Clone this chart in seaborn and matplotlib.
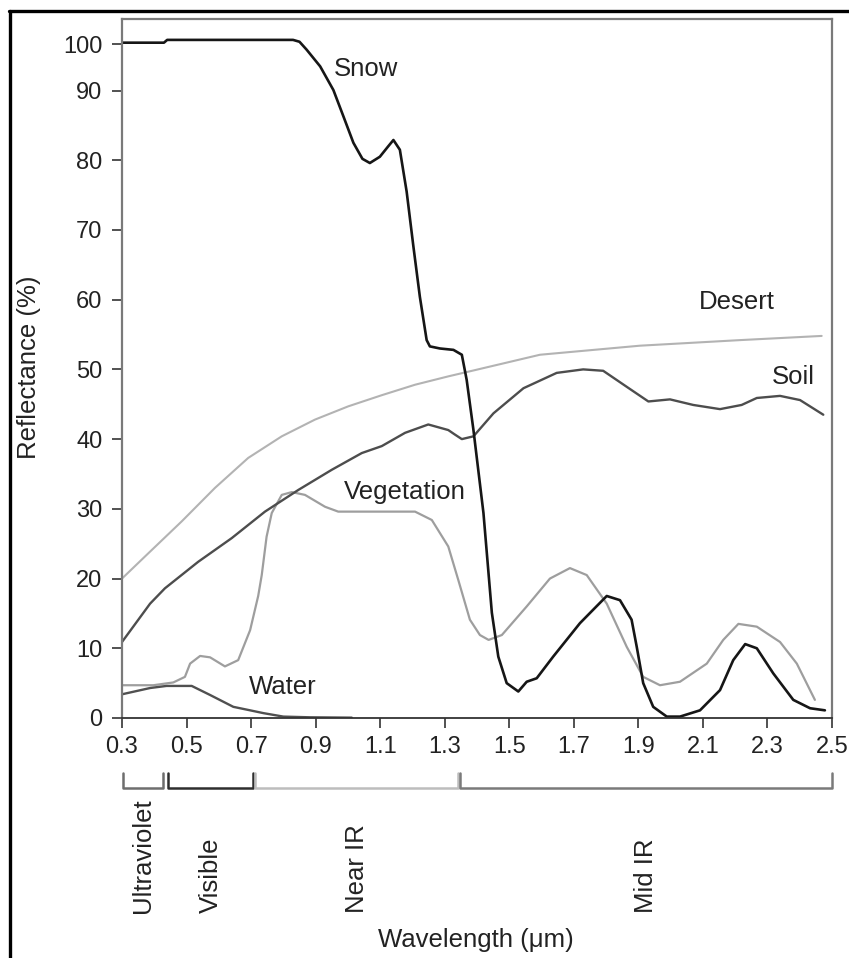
import numpy as np
import matplotlib
matplotlib.use("Agg")
import matplotlib.pyplot as plt
from matplotlib.lines import Line2D
import seaborn as sns

# spectral reflectance curves (wavelength in um, reflectance in %)
snow_x = [0.30, 0.43, 0.44, 0.83, 0.85, 0.872, 0.914, 0.955, 0.986, 1.017, 1.045, 1.068, 1.099,
          1.125, 1.141, 1.161, 1.182, 1.203, 1.223, 1.244, 1.254, 1.285, 1.327, 1.353, 1.368,
          1.389, 1.42, 1.446, 1.466, 1.492, 1.528, 1.554, 1.585, 1.636, 1.719, 1.77, 1.802,
          1.843, 1.879, 1.895, 1.915, 1.946, 1.988, 2.029, 2.091, 2.153, 2.194, 2.231, 2.267,
          2.318, 2.380, 2.432, 2.478]
snow_y = [100.3, 100.3, 100.9, 100.9, 100.5, 98.8, 95.2, 90.1, 86.3, 82.5, 80.2, 79.6, 80.5,
          82.0, 82.9, 81.5, 75.5, 67.6, 60.4, 54.2, 53.3, 53.0, 52.8, 52.1, 48.5,
          41.3, 29.4, 15.1, 8.8, 5.0, 3.8, 5.2, 5.7, 8.8, 13.6, 16.0, 17.5,
          16.9, 14.1, 10.2, 5.0, 1.6, 0.2, 0.2, 1.1, 4.0, 8.3, 10.6, 10.0,
          6.4, 2.6, 1.4, 1.1]

veg_x = [0.30, 0.397, 0.459, 0.495, 0.511, 0.542, 0.573, 0.619, 0.660, 0.697, 0.722, 0.733,
         0.748, 0.764, 0.795, 0.826, 0.867, 0.929, 0.970, 1.089, 1.208, 1.26, 1.311, 1.342,
         1.378, 1.409, 1.436, 1.477, 1.554, 1.626, 1.688, 1.740, 1.802, 1.864, 1.915, 1.967,
         2.029, 2.112, 2.163, 2.210, 2.267, 2.339, 2.391, 2.447]
veg_y = [4.7, 4.7, 5.1, 5.9, 7.8, 8.9, 8.7, 7.4, 8.3, 12.6, 17.5, 20.5,
         26.0, 29.4, 32.0, 32.4, 32.0, 30.3, 29.6, 29.6, 29.6, 28.4, 24.6, 19.8,
         14.1, 11.9, 11.2, 11.9, 16.0, 20.0, 21.5, 20.5, 16.4, 10.2, 5.9, 4.7,
         5.2, 7.8, 11.2, 13.5, 13.1, 10.9, 7.8, 2.6]

soil_x = [0.30, 0.387, 0.433, 0.536, 0.640, 0.743, 0.846, 0.950, 1.043, 1.105, 1.177, 1.249,
          1.311, 1.33, 1.353, 1.389, 1.451, 1.544, 1.647, 1.729, 1.791, 1.864, 1.931, 1.998,
          2.070, 2.153, 2.220, 2.267, 2.339, 2.401, 2.473]
soil_y = [10.9, 16.4, 18.6, 22.4, 25.8, 29.6, 32.7, 35.6, 38.0, 39.0, 40.9, 42.1,
          41.3, 40.7, 40.0, 40.4, 43.7, 47.3, 49.5, 50.0, 49.8, 47.5, 45.4, 45.7,
          44.9, 44.3, 44.9, 45.9, 46.2, 45.6, 43.5]

desert_x = [0.30, 0.381, 0.485, 0.588, 0.691, 0.795, 0.898, 1.001, 1.105, 1.208, 1.311,
            1.394, 1.595, 1.905, 2.215, 2.468]
desert_y = [20.0, 23.6, 28.2, 33.0, 37.3, 40.4, 42.8, 44.7, 46.3, 47.8, 49.0,
            49.9, 52.1, 53.4, 54.2, 54.8]

water_x = [0.30, 0.387, 0.438, 0.516, 0.573, 0.645, 0.697, 0.738, 0.800, 0.883, 1.012]
water_y = [3.4, 4.3, 4.6, 4.6, 3.3, 1.6, 1.1, 0.7, 0.2, 0.1, 0.05]

x_ticks = [0.3, 0.5, 0.7, 0.9, 1.1, 1.3, 1.5, 1.7, 1.9, 2.1, 2.3, 2.5]
y_ticks = [0, 10, 20, 30, 40, 50, 60, 70, 80, 90, 100]

# spectral regions under the axis
band_names = ["Ultraviolet", "Visible", "Near IR", "Mid IR"]
band_start = [0.304, 0.444, 0.712, 1.347]
band_end = [0.428, 0.705, 1.342, 2.5]


sns.set_style("ticks")
plt.rcParams['font.family'] = ['Liberation Sans', 'DejaVu Sans']

W, H = 849, 958
fig = plt.figure(figsize=(W / 100, H / 100), dpi=100)
L, R, T, B = 122, 832, 19, 718
ax = fig.add_axes([L / W, 1 - B / H, (R - L) / W, (B - T) / H])

# the top decade (90-100) is squeezed on the original axis
k = 0.666
def fwd(v):
    v = np.asarray(v, dtype=float)
    return np.where(v <= 90, v, 90 + (v - 90) * k)

def inv(v):
    v = np.asarray(v, dtype=float)
    return np.where(v <= 90, v, 90 + (v - 90) / k)

ax.set_yscale('function', functions=(fwd, inv))

series = [
    (desert_x, desert_y, "#b3b3b3", 1.5),
    (veg_x, veg_y, "#9e9e9e", 1.6),
    (soil_x, soil_y, "#4d4d4d", 1.7),
    (water_x, water_y, "#505050", 1.7),
    (snow_x, snow_y, "#161616", 1.9),
]
for xs, ys, c, lw in series:
    sns.lineplot(x=xs, y=ys, ax=ax, color=c, lw=lw, sort=False, estimator=None,
                 solid_joinstyle='round', solid_capstyle='round')

ax.set_xlim(0.3, 2.5)
ax.set_ylim(0, 105.4)
ax.set_xticks(x_ticks)
ax.set_xticklabels([f"{t:.1f}" for t in x_ticks])
ax.set_yticks(y_ticks)
ax.set_yticklabels([str(t) for t in y_ticks])
ax.minorticks_off()
ax.tick_params(direction='out', length=7, width=1.2, color='#333333',
               labelsize=17, labelcolor='#222222')
ax.tick_params(axis='y', pad=7)
ax.tick_params(axis='x', pad=6)

for side in ['top', 'left', 'right']:
    ax.spines[side].set_color('#7a7a7a')
    ax.spines[side].set_linewidth(1.6)
ax.spines['bottom'].set_color('#333333')
ax.spines['bottom'].set_linewidth(1.3)

# curve names
lbl = dict(fontsize=18.5, color='#222222', ha='center', va='center')
ax.text(1.055, 94.7, "Snow", **lbl)
ax.text(2.206, 59.7, "Desert", **lbl)
ax.text(2.38, 48.9, "Soil", **lbl)
ax.text(1.177, 32.4, "Vegetation", **lbl)
ax.text(0.797, 4.5, "Water", **lbl)

# brackets for the spectral regions
bax = fig.add_axes([L / W, 0, (R - L) / W, 198 / H])
bax.set_xlim(0.3, 2.5)
bax.set_ylim(198, 0)
bax.axis('off')
band_colors = ["#6e6e6e", "#2e2e2e", "#bdbdbd", "#7a7a7a"]
for name, s, e, c in zip(band_names, band_start, band_end, band_colors):
    bax.plot([s, s, e, e], [13, 28, 28, 13], color=c, lw=1.8, clip_on=False)
    bax.text((s + e) / 2, 153, name, rotation=90, ha='center', va='bottom',
             fontsize=18.5, color='#222222')

fig.text(476 / W, 1 - 940 / H, "Wavelength (\u03bcm)", ha='center', va='center',
         fontsize=18.5, color='#222222')
fig.text(29 / W, 1 - 367 / H, "Reflectance (%)", rotation=90, ha='center', va='center',
         fontsize=18.5, color='#222222')

# black frame on left and top of the scan
fig.add_artist(Line2D([9 / W, 1], [1 - 11 / H, 1 - 11 / H], transform=fig.transFigure,
                      color='black', lw=2.4))
fig.add_artist(Line2D([9.5 / W, 9.5 / W], [0, 1 - 11 / H], transform=fig.transFigure,
                      color='black', lw=2.4))

fig.savefig("out.png", dpi=100)
